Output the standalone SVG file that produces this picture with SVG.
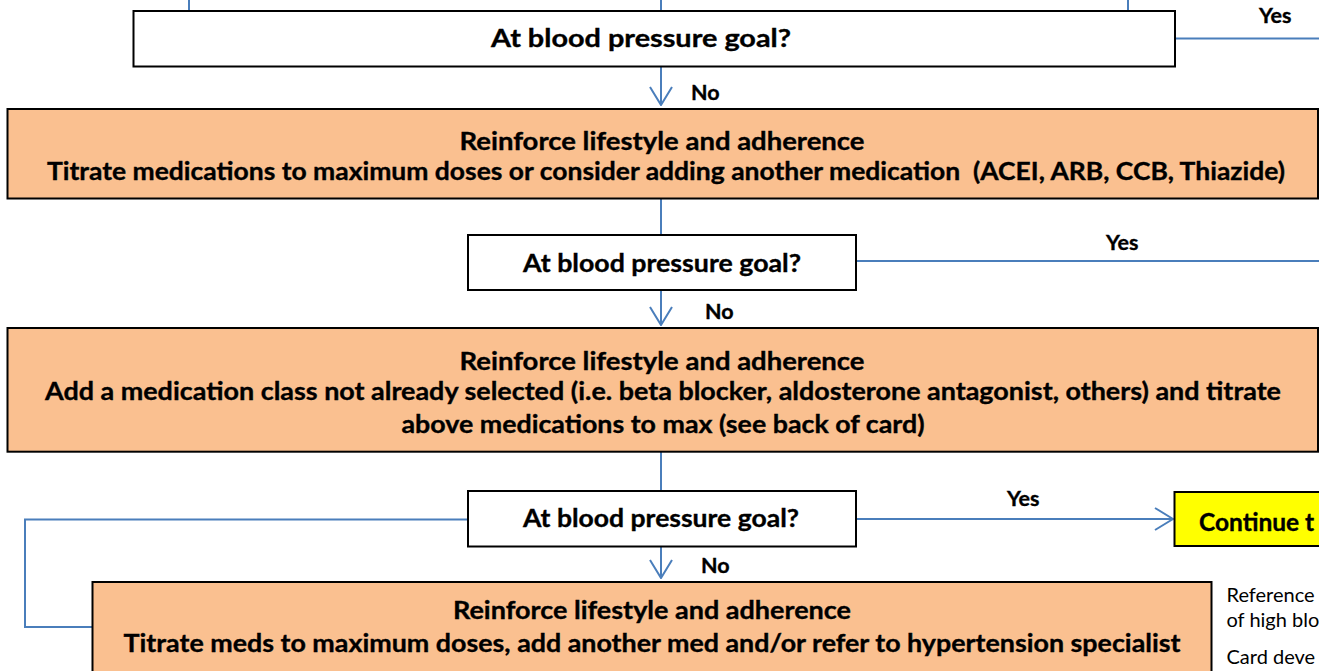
<svg xmlns="http://www.w3.org/2000/svg" width="1319" height="671" viewBox="0 0 1319 671">
  <defs>
    <style>
      .q { fill: #ffffff; stroke: #000000; stroke-width: 2; }
      .act { fill: #fac090; stroke: #000000; stroke-width: 2; }
      .go { fill: #ffff00; stroke: #000000; stroke-width: 2; }
      .wire { fill: none; stroke: #4a7ebb; stroke-width: 2; }
      .b { font-family: Lato, "Open Sans", "Liberation Sans", sans-serif; font-weight: bold; fill: #000000; stroke: #000000; stroke-width: 0.35; }
      .t { font-size: 24.5px; }
      .lbl { font-size: 21.5px; }
      .note { font-family: Lato, "Open Sans", "Liberation Sans", sans-serif; font-size: 20px; fill: #000000; }
    </style>
    <marker id="vee" viewBox="0 0 20 24" refX="19" refY="12" markerWidth="20" markerHeight="24" markerUnits="userSpaceOnUse" orient="auto">
      <path d="M1,1 L19,12 L1,23" fill="none" stroke="#4a7ebb" stroke-width="2"/>
    </marker>
  </defs>

  <!-- connectors -->
  <g id="connectors">
    <line class="wire" x1="189" y1="0" x2="189" y2="10"/>
    <line class="wire" x1="661" y1="0" x2="661" y2="10"/>
    <line class="wire" x1="1128" y1="0" x2="1128" y2="10"/>
    <line class="wire" x1="1175" y1="38.5" x2="1319" y2="38.5"/>
    <line class="wire" x1="661" y1="67" x2="661" y2="105" marker-end="url(#vee)"/>
    <line class="wire" x1="661" y1="199" x2="661" y2="235"/>
    <line class="wire" x1="857" y1="261" x2="1319" y2="261"/>
    <line class="wire" x1="661" y1="291" x2="661" y2="325" marker-end="url(#vee)"/>
    <line class="wire" x1="661" y1="452" x2="661" y2="491"/>
    <line class="wire" x1="857" y1="519" x2="1173" y2="519" marker-end="url(#vee)"/>
    <line class="wire" x1="661" y1="547" x2="661" y2="578" marker-end="url(#vee)"/>
    <polyline class="wire" points="468,519.5 25,519.5 25,627 92,627"/>
    <text class="b lbl" x="1259" y="22.7">Yes</text>
    <text class="b lbl" x="691" y="100">No</text>
    <text class="b lbl" x="1106" y="250">Yes</text>
    <text class="b lbl" x="705" y="319">No</text>
    <text class="b lbl" x="1007" y="506">Yes</text>
    <text class="b lbl" x="701" y="573">No</text>
  </g>

  <!-- decision 1 -->
  <g id="goal1">
    <rect class="q" x="133.5" y="11" width="1041.5" height="55.5"/>
    <text class="b t" x="641" y="46.5" text-anchor="middle" textLength="300" lengthAdjust="spacingAndGlyphs">At blood pressure goal?</text>
  </g>

  <!-- step 1 -->
  <g id="step1">
    <rect class="act" x="7.5" y="109" width="1310.5" height="89.5"/>
    <text class="b t" x="662" y="150" text-anchor="middle" textLength="405" lengthAdjust="spacingAndGlyphs">Reinforce lifestyle and adherence</text>
    <text class="b t" x="666" y="180" text-anchor="middle" textLength="1238" lengthAdjust="spacingAndGlyphs" xml:space="preserve">Titrate medications to maximum doses or consider adding another medication  (ACEI, ARB, CCB, Thiazide)</text>
  </g>

  <!-- decision 2 -->
  <g id="goal2">
    <rect class="q" x="468" y="235" width="388" height="55"/>
    <text class="b t" x="662" y="271.7" text-anchor="middle" textLength="278" lengthAdjust="spacingAndGlyphs">At blood pressure goal?</text>
  </g>

  <!-- step 2 -->
  <g id="step2">
    <rect class="act" x="7.5" y="328" width="1310.5" height="123.7"/>
    <text class="b t" x="662" y="370" text-anchor="middle" textLength="405" lengthAdjust="spacingAndGlyphs">Reinforce lifestyle and adherence</text>
    <text class="b t" x="663" y="400" text-anchor="middle" textLength="1236" lengthAdjust="spacingAndGlyphs">Add a medication class not already selected (i.e. beta blocker, aldosterone antagonist, others) and titrate</text>
    <text class="b t" x="663" y="432.5" text-anchor="middle" textLength="523" lengthAdjust="spacingAndGlyphs">above medications to max (see back of card)</text>
  </g>

  <!-- decision 3 -->
  <g id="goal3">
    <rect class="q" x="468" y="491" width="388" height="55.5"/>
    <text class="b t" x="661" y="526.5" text-anchor="middle" textLength="276" lengthAdjust="spacingAndGlyphs">At blood pressure goal?</text>
  </g>

  <!-- continue -->
  <g id="continue">
    <rect class="go" x="1174.5" y="492" width="160" height="54"/>
    <text class="b t" x="1199" y="530.5">Continue t</text>
  </g>

  <!-- step 3 -->
  <g id="step3">
    <rect class="act" x="92.5" y="582" width="1119" height="100"/>
    <text class="b t" x="652" y="619" text-anchor="middle" textLength="398" lengthAdjust="spacingAndGlyphs">Reinforce lifestyle and adherence</text>
    <text class="b t" x="652" y="651.7" text-anchor="middle" textLength="1057" lengthAdjust="spacingAndGlyphs">Titrate meds to maximum doses, add another med and/or refer to hypertension specialist</text>
  </g>

  <!-- side notes -->
  <g id="notes">
    <text class="note" x="1226.5" y="601.7">Reference</text>
    <text class="note" x="1226.5" y="626.7">of high blo</text>
    <text class="note" x="1226.5" y="664">Card deve</text>
  </g>
</svg>
